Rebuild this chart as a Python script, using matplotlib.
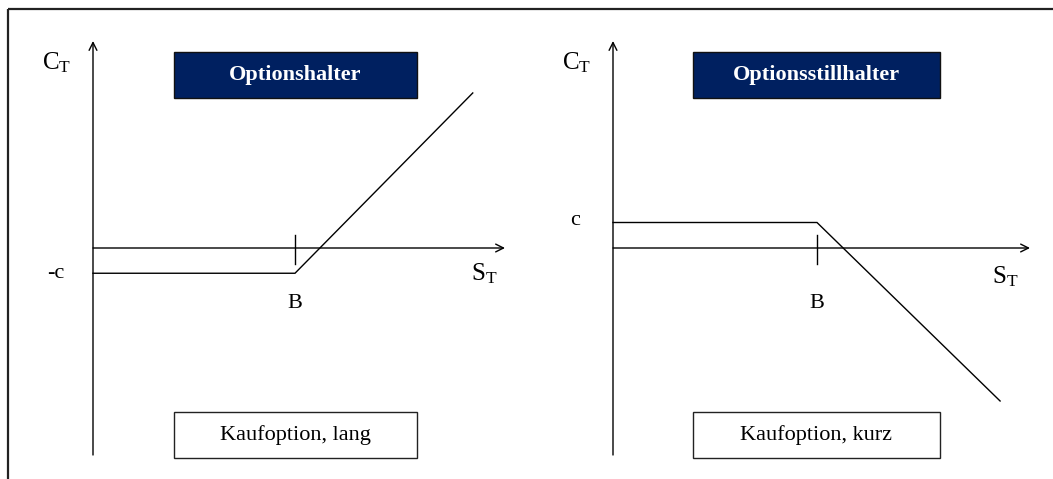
import matplotlib
matplotlib.use("Agg")
import matplotlib.pyplot as plt
from matplotlib.patches import Rectangle

plt.rcParams['font.family'] = ['Liberation Serif', 'DejaVu Serif']
plt.rcParams['mathtext.fontset'] = 'custom'
plt.rcParams['mathtext.rm'] = 'Liberation Serif'
plt.rcParams['mathtext.it'] = 'Liberation Serif:italic'

# ---- data ----
strike_B = 4.0
premium_c = 0.5
s_long = [0.0, 4.0, 7.52]
payoff_long = [-0.5, -0.5, 3.07]
s_short = [0.0, 4.0, 7.59]
payoff_short = [0.5, 0.5, -3.0]
panel_titles = ["Optionshalter", "Optionsstillhalter"]
panel_subtitles = ["Kaufoption, lang", "Kaufoption, kurz"]
level_labels = ["-c", "c"]

W, H = 1053, 479
fig = plt.figure(figsize=(W / 100, H / 100), dpi=100)

# overlay axes in pixel coordinates for frames/boxes
ov = fig.add_axes([0, 0, 1, 1])
ov.set_xlim(0, W)
ov.set_ylim(H, 0)
ov.axis('off')
ov.plot([8, W], [9, 9], color='#222222', lw=1.6, solid_capstyle='butt')
ov.plot([8, 8], [9, H], color='#222222', lw=1.6, solid_capstyle='butt')

NAVY = '#002060'
boxes = [(174, 417), (693, 940)]
for (x0, x1), t, st in zip(boxes, panel_titles, panel_subtitles):
    ov.add_patch(Rectangle((x0, 52), x1 - x0, 46, facecolor=NAVY, edgecolor='#111111', lw=1.0))
    ov.text((x0 + x1) / 2, 75, t, color='white', fontweight='bold', fontsize=16,
            ha='center', va='center')
    ov.add_patch(Rectangle((x0, 411.5), x1 - x0, 46, facecolor='white', edgecolor='#222222', lw=1.0))
    ov.text((x0 + x1) / 2, 435, st, color='black', fontsize=16, ha='center', va='center')


def make_panel(px0, px1, ox, oy, scale):
    ax = fig.add_axes([px0 / W, 0, (px1 - px0) / W, 1])
    ax.set_xlim((px0 - ox) / scale, (px1 - ox) / scale)
    ax.set_ylim((oy - H) / scale, oy / scale)
    ax.axis('off')
    return ax


def draw_panel(ax, scale, s_vals, payoff, level_label, ymin_px, ymax_px, xarrow_px, ox, oy,
               st_pos, lvl_x, lvl_dy):
    arrow = dict(arrowstyle='->', color='black', lw=1.0, mutation_scale=14, shrinkA=0, shrinkB=0)
    # y axis
    ax.annotate('', xy=(0, (oy - ymax_px) / scale), xytext=(0, (oy - ymin_px) / scale),
                arrowprops=arrow)
    # x axis
    ax.annotate('', xy=((xarrow_px - ox) / scale, 0), xytext=(0, 0), arrowprops=arrow)
    # payoff
    ax.plot(s_vals, payoff, color='black', lw=1.0, solid_joinstyle='miter')
    # tick at B
    ax.plot([strike_B, strike_B], [13 / scale, -16 / scale], color='black', lw=1.0)
    # labels
    ax.text(-0.72, (oy - 63) / scale, r'$\mathrm{C}_{\mathrm{T}}$', fontsize=18,
            ha='center', va='center')
    ax.text(lvl_x, payoff[0] + lvl_dy, level_label, fontsize=16, ha='center', va='center')
    ax.text(strike_B, -(303 - oy) / scale, 'B', fontsize=16, ha='center', va='center')
    ax.text(st_pos[0], st_pos[1], r'$\mathrm{S}_{\mathrm{T}}$', fontsize=18,
            ha='center', va='center')


axL = make_panel(0, 530, 93, 248, 50.5)
draw_panel(axL, 50.5, s_long, payoff_long, level_labels[0], 455, 41, 505, 93, 248,
           (7.75, -0.5), -0.73, 0.0)
axR = make_panel(530, W, 613, 248, 51.0)
draw_panel(axR, 51.0, s_short, payoff_short, level_labels[1], 455, 41, 1030, 613, 248,
           (7.7, -0.56), -0.75, 0.04)

fig.savefig('out.png', dpi=100)
